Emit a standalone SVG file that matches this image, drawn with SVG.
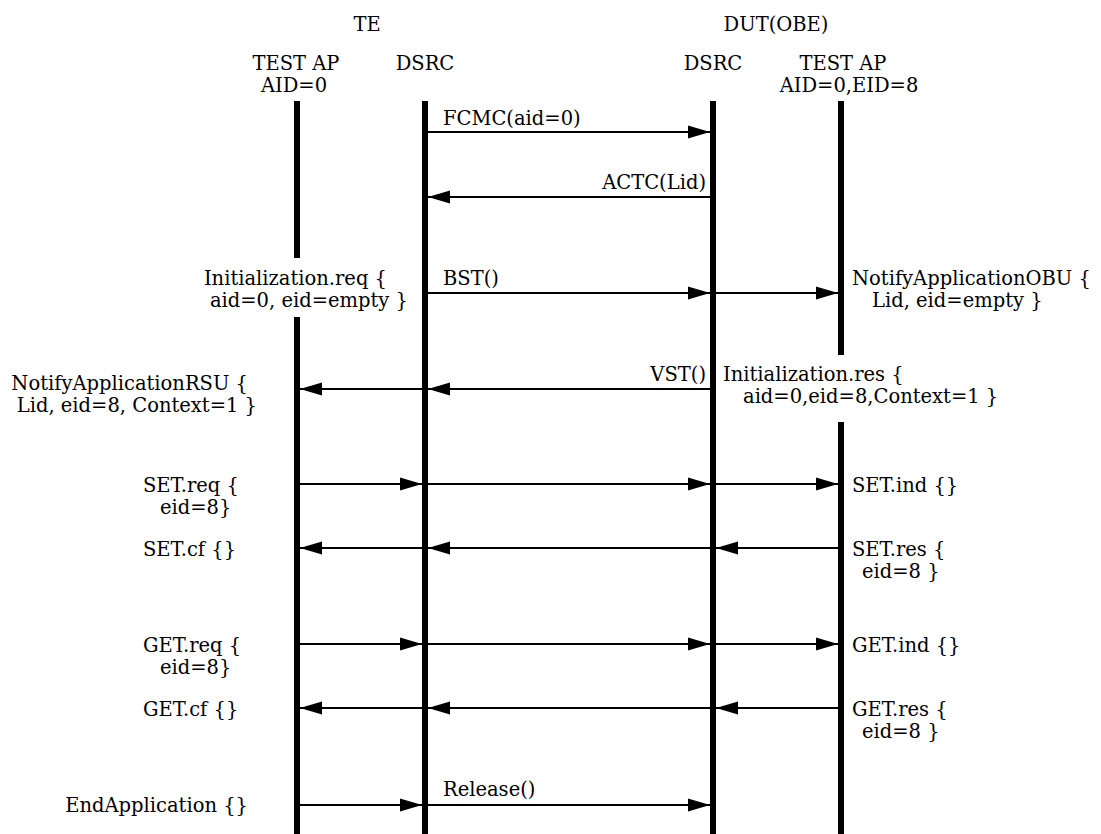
<svg xmlns="http://www.w3.org/2000/svg" width="1101" height="834" viewBox="0 0 1101 834">
<style>
.t{font-family:"DejaVu Serif","Liberation Serif",serif;font-size:19.5px;fill:#000}
.e{text-anchor:end}
.m{text-anchor:middle}
.life{stroke:#000;stroke-width:6;fill:none}
.msg{stroke:#000;stroke-width:2;fill:none;marker-end:url(#ah)}
</style>
<defs>
<marker id="ah" markerUnits="userSpaceOnUse" markerWidth="22" markerHeight="14" refX="22" refY="7" orient="auto">
<path d="M0,0.5 L22,7 L0,13.5 z" fill="#000"/>
</marker>
</defs>
<rect width="1101" height="834" fill="#fff"/>
<g id="headers">
<text class="t m" x="367" y="31">TE</text>
<text class="t m" x="776" y="31">DUT(OBE)</text>
</g>
<g id="te-testap">
<text class="t m" x="296" y="70">TEST AP</text>
<text class="t m" x="294" y="92">AID=0</text>
<line class="life" x1="297" y1="101" x2="297" y2="258"/>
<line class="life" x1="297" y1="317" x2="297" y2="834"/>
</g>
<g id="te-dsrc">
<text class="t m" x="425" y="70">DSRC</text>
<line class="life" x1="425" y1="101" x2="425" y2="834"/>
</g>
<g id="dut-dsrc">
<text class="t m" x="713" y="70">DSRC</text>
<line class="life" x1="713" y1="101" x2="713" y2="834"/>
</g>
<g id="dut-testap">
<text class="t m" x="843" y="70">TEST AP</text>
<text class="t m" x="849" y="92">AID=0,EID=8</text>
<line class="life" x1="841" y1="101" x2="841" y2="355"/>
<line class="life" x1="841" y1="422" x2="841" y2="834"/>
</g>
<g id="connectors">
<line class="msg" x1="428" y1="132" x2="710" y2="132"/>
<line class="msg" x1="710" y1="197" x2="428" y2="197"/>
<line class="msg" x1="428" y1="293" x2="710" y2="293"/>
<line class="msg" x1="716" y1="293" x2="838" y2="293"/>
<line class="msg" x1="710" y1="389" x2="428" y2="389"/>
<line class="msg" x1="422" y1="389" x2="300" y2="389"/>
<line class="msg" x1="300" y1="484" x2="422" y2="484"/>
<line class="msg" x1="428" y1="484" x2="710" y2="484"/>
<line class="msg" x1="716" y1="484" x2="838" y2="484"/>
<line class="msg" x1="838" y1="548" x2="716" y2="548"/>
<line class="msg" x1="710" y1="548" x2="428" y2="548"/>
<line class="msg" x1="422" y1="548" x2="300" y2="548"/>
<line class="msg" x1="300" y1="644" x2="422" y2="644"/>
<line class="msg" x1="428" y1="644" x2="710" y2="644"/>
<line class="msg" x1="716" y1="644" x2="838" y2="644"/>
<line class="msg" x1="838" y1="708" x2="716" y2="708"/>
<line class="msg" x1="710" y1="708" x2="428" y2="708"/>
<line class="msg" x1="422" y1="708" x2="300" y2="708"/>
<line class="msg" x1="300" y1="805" x2="422" y2="805"/>
<line class="msg" x1="428" y1="805" x2="710" y2="805"/>
</g>
<g id="labels">
<text class="t" x="443" y="125">FCMC(aid=0)</text>
<text class="t e" x="706" y="189">ACTC(Lid)</text>
<text class="t" x="443" y="285">BST()</text>
<text class="t e" x="706" y="381">VST()</text>
<text class="t e" x="387" y="285">Initialization.req {</text>
<text class="t e" x="408" y="307">aid=0, eid=empty }</text>
<text class="t" x="852" y="285">NotifyApplicationOBU {</text>
<text class="t" x="872" y="307">Lid, eid=empty }</text>
<text class="t e" x="248" y="390">NotifyApplicationRSU {</text>
<text class="t e" x="257" y="412">Lid, eid=8, Context=1 }</text>
<text class="t" x="723" y="381">Initialization.res {</text>
<text class="t" x="743" y="403">aid=0,eid=8,Context=1 }</text>
<text class="t" x="143" y="492">SET.req {</text>
<text class="t" x="160" y="514">eid=8}</text>
<text class="t" x="143" y="556">SET.cf {}</text>
<text class="t" x="852" y="492">SET.ind {}</text>
<text class="t" x="852" y="556">SET.res {</text>
<text class="t" x="862" y="578">eid=8 }</text>
<text class="t" x="143" y="652">GET.req {</text>
<text class="t" x="160" y="674">eid=8}</text>
<text class="t" x="143" y="716">GET.cf {}</text>
<text class="t" x="852" y="652">GET.ind {}</text>
<text class="t" x="852" y="716">GET.res {</text>
<text class="t" x="862" y="738">eid=8 }</text>
<text class="t" x="443" y="796">Release()</text>
<text class="t e" x="248" y="812">EndApplication {}</text>
</g>
</svg>
